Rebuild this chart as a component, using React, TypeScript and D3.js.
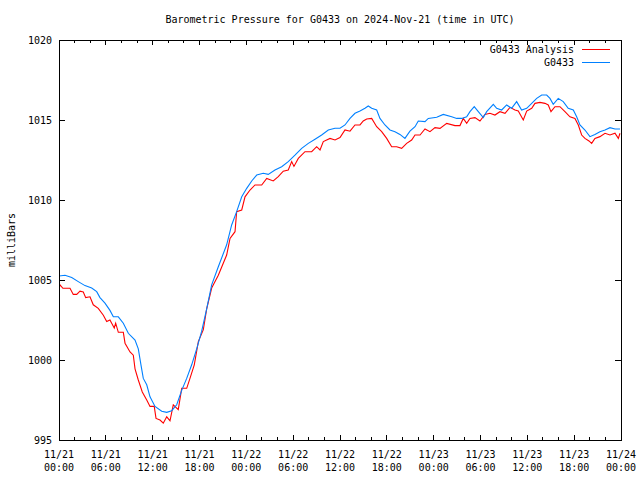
import React from "react";
import * as d3 from "d3";

const title = "Barometric Pressure for G0433 on 2024-Nov-21 (time in UTC)";
const yLabel = "milliBars";
const seriesNames = ["G0433 Analysis", "G0433"];
const seriesColors = ["#ff0000", "#0080ff"];
const yTicks = [995, 1000, 1005, 1010, 1015, 1020];

// hours since 2024-11-21 00:00 UTC
const analysisHours = [0, 0.13, 0.5, 1.41, 1.83, 2.27, 2.69, 3.11, 3.42, 3.97, 4.39, 5.03, 5.68, 6.11, 6.53, 6.75, 7.08, 7.26, 7.6, 8.24, 8.46, 9.1, 9.52, 9.74, 10.16, 10.67, 11.24, 11.66, 12.2, 12.43, 12.94, 13.36, 13.8, 14.22, 14.64, 15.28, 15.72, 16.36, 16.78, 17.33, 17.85, 18.49, 18.92, 19.56, 20.41, 21.48, 21.91, 22.55, 22.76, 23.41, 23.83, 24.47, 25.11, 25.97, 26.61, 27.45, 28.09, 28.73, 29.37, 29.81, 30.1, 30.66, 31.51, 32.37, 33.01, 33.44, 33.86, 34.72, 35.36, 36.0, 36.64, 37.28, 37.92, 38.56, 38.98, 39.42, 40.06, 40.7, 41.34, 41.98, 42.62, 43.26, 43.9, 44.54, 45.18, 45.61, 46.25, 46.89, 47.53, 48.17, 48.81, 49.67, 50.73, 51.37, 51.79, 52.23, 52.65, 53.29, 53.93, 54.57, 55.21, 55.85, 56.49, 57.14, 57.78, 58.42, 58.84, 59.48, 59.92, 60.56, 60.98, 61.62, 62.26, 62.68, 63.03, 63.54, 64.18, 64.82, 65.46, 66.1, 66.53, 66.96, 67.38, 67.9, 68.24, 68.66, 69.3, 69.95, 70.59, 71.23, 71.66, 71.87];
const analysisValues = [1004.48, 1004.7, 1004.48, 1004.48, 1004.1, 1004.1, 1004.3, 1004.25, 1003.9, 1003.95, 1003.45, 1003.23, 1002.8, 1002.4, 1002.5, 1002.3, 1002.0, 1002.3, 1001.73, 1001.73, 1001.05, 1000.5, 1000.3, 999.45, 998.75, 998.0, 997.5, 997.1, 997.1, 996.35, 996.25, 996.05, 996.45, 996.2, 997.2, 996.9, 998.23, 998.23, 998.85, 999.7, 1001.15, 1001.9, 1003.2, 1004.5, 1005.3, 1006.56, 1007.6, 1008.02, 1009.27, 1009.375, 1010.2, 1010.625, 1010.94, 1010.94, 1011.35, 1011.19, 1011.46, 1011.8, 1011.875, 1012.4, 1012.1, 1012.6, 1013.02, 1013.02, 1013.33, 1013.125, 1013.65, 1013.85, 1013.75, 1013.9, 1014.375, 1014.3, 1014.69, 1014.69, 1014.94, 1015.06, 1015.1, 1014.58, 1014.27, 1013.85, 1013.33, 1013.33, 1013.23, 1013.54, 1013.75, 1014.06, 1014.06, 1014.44, 1014.27, 1014.52, 1014.48, 1014.79, 1014.65, 1014.65, 1015.1, 1014.79, 1015.1, 1015.15, 1014.94, 1015.35, 1015.42, 1015.31, 1015.52, 1015.42, 1015.79, 1015.625, 1015.56, 1015.0, 1015.56, 1015.73, 1016.04, 1016.1, 1016.04, 1015.94, 1015.52, 1015.83, 1015.83, 1015.52, 1015.2, 1015.1, 1014.69, 1014.06, 1013.85, 1013.69, 1013.54, 1013.85, 1013.96, 1014.17, 1014.06, 1014.17, 1013.85, 1014.17];

const stationHours = [0, 0.77, 1.63, 2.47, 3.33, 4.19, 4.83, 5.25, 5.89, 6.53, 6.96, 7.6, 8.24, 8.88, 9.74, 10.16, 10.5, 10.8, 11.24, 11.66, 12.3, 13.16, 13.8, 14.44, 15.08, 15.72, 16.36, 17.0, 17.64, 18.28, 18.92, 19.56, 20.41, 21.48, 22.12, 22.76, 23.41, 24.05, 24.69, 25.33, 26.17, 26.81, 27.67, 28.53, 29.37, 30.23, 31.09, 31.94, 32.8, 33.65, 34.5, 35.36, 36.0, 36.64, 37.28, 37.92, 38.56, 39.2, 39.62, 40.06, 40.7, 41.12, 41.76, 42.4, 43.04, 43.68, 44.32, 44.96, 45.61, 46.03, 46.89, 47.31, 48.39, 49.23, 50.31, 50.95, 51.59, 52.23, 52.65, 53.2, 53.72, 54.36, 54.79, 55.64, 56.07, 56.71, 57.35, 57.99, 58.63, 59.27, 59.92, 60.56, 61.2, 61.84, 62.48, 62.9, 63.32, 63.96, 64.6, 65.24, 65.89, 66.32, 66.74, 67.38, 68.02, 68.66, 69.3, 69.95, 70.59, 71.23, 71.87];
const stationValues = [1005.25, 1005.3, 1005.15, 1004.9, 1004.65, 1004.5, 1004.27, 1003.9, 1003.55, 1003.1, 1002.7, 1002.7, 1002.3, 1001.67, 1001.25, 1000.7, 999.7, 998.85, 998.45, 997.7, 997.1, 996.8, 996.73, 996.83, 997.2, 998.1, 998.85, 999.7, 1000.7, 1001.8, 1003.2, 1004.7, 1005.83, 1007.2, 1008.44, 1009.27, 1010.2, 1010.73, 1011.19, 1011.56, 1011.67, 1011.6, 1011.88, 1012.08, 1012.4, 1012.8, 1013.23, 1013.54, 1013.8, 1014.06, 1014.375, 1014.48, 1014.48, 1014.69, 1015.1, 1015.42, 1015.56, 1015.73, 1015.875, 1015.73, 1015.625, 1015.1, 1014.69, 1014.375, 1014.27, 1014.1, 1013.85, 1014.3, 1014.58, 1014.94, 1014.9, 1015.1, 1015.17, 1015.35, 1015.2, 1015.1, 1015.1, 1015.2, 1015.52, 1015.83, 1015.52, 1015.15, 1015.52, 1015.98, 1015.73, 1015.625, 1015.94, 1015.73, 1016.15, 1015.625, 1015.73, 1016.04, 1016.35, 1016.56, 1016.56, 1016.35, 1015.98, 1016.35, 1016.15, 1015.73, 1015.625, 1015.2, 1014.69, 1014.375, 1013.96, 1014.1, 1014.27, 1014.375, 1014.52, 1014.44, 1014.44];

const START = Date.UTC(2024, 10, 21, 0, 0);
const END = Date.UTC(2024, 10, 24, 0, 0);

export default function App() {
  const W = 640, H = 480;
  const L = 59, R = 621, T = 40, B = 440;
  const x = d3.scaleUtc().domain([new Date(START), new Date(END)]).range([L, R]);
  const y = d3.scaleLinear().domain([995, 1020]).range([B, T]);
  const toDate = (h: number) => new Date(START + h * 3600000);
  const line = d3
    .line<[number, number]>()
    .x((d) => x(toDate(d[0])))
    .y((d) => y(d[1]));
  const series = [
    d3.zip(analysisHours, analysisValues) as [number, number][],
    d3.zip(stationHours, stationValues) as [number, number][],
  ];
  const major = x.ticks(d3.utcHour.every(6)!);
  const minor = x.ticks(d3.utcHour.every(2)!).filter((d) => d.getUTCHours() % 6 !== 0);
  const fmtD = d3.utcFormat("%m/%d");
  const fmtT = d3.utcFormat("%H:%M");
  const font = "'DejaVu Sans Mono', 'Liberation Mono', monospace";
  const MJ = 5, MN = 3;
  return (
    <svg width={W} height={H} style={{ position: "absolute", left: 0, top: 0, background: "#fff" }} fontFamily={font} fontSize={10}>
      <rect x={0} y={0} width={W} height={H} fill="#fff" />
      <text x={(L + R) / 2} y={23} textAnchor="middle" fill="#000">{title}</text>
      <g stroke="#000" strokeWidth={1} shapeRendering="crispEdges">
        {major.map((d, i) => (
          <g key={"M" + i}>
            <line x1={x(d)} x2={x(d)} y1={B} y2={B - MJ} />
            <line x1={x(d)} x2={x(d)} y1={T} y2={T + MJ} />
          </g>
        ))}
        {minor.map((d, i) => (
          <g key={"m" + i}>
            <line x1={x(d)} x2={x(d)} y1={B} y2={B - MN} />
            <line x1={x(d)} x2={x(d)} y1={T} y2={T + MN} />
          </g>
        ))}
        {yTicks.map((v) => (
          <g key={"y" + v}>
            <line x1={L} x2={L + 6} y1={y(v)} y2={y(v)} />
            <line x1={R} x2={R - 6} y1={y(v)} y2={y(v)} />
          </g>
        ))}
      </g>
      {yTicks.map((v) => (
        <text key={"yl" + v} x={52} y={y(v) + 4} textAnchor="end" fill="#000">{v}</text>
      ))}
      {major.map((d, i) => (
        <g key={"xl" + i}>
          <text x={x(d)} y={458} textAnchor="middle" fill="#000">{fmtD(d)}</text>
          <text x={x(d)} y={471} textAnchor="middle" fill="#000">{fmtT(d)}</text>
        </g>
      ))}
      <text transform={`translate(15,${(T + B) / 2}) rotate(-90)`} textAnchor="middle" fill="#000">{yLabel}</text>
      <g clipPath="url(#plotclip)">
        {series.map((s, i) => (
          <path key={"s" + i} d={line(s) || ""} fill="none" stroke={seriesColors[i]} strokeWidth={1.1} />
        ))}
      </g>
      <defs>
        <clipPath id="plotclip">
          <rect x={L} y={T} width={R - L} height={B - T} />
        </clipPath>
      </defs>
      {seriesNames.map((n, i) => (
        <g key={"lg" + i}>
          <text x={574} y={53 + i * 13} textAnchor="end" fill="#000">{n}</text>
          <line x1={582} x2={610} y1={49.5 + i * 13} y2={49.5 + i * 13} stroke={seriesColors[i]} strokeWidth={1} shapeRendering="crispEdges" />
        </g>
      ))}
      <rect x={L} y={T} width={R - L} height={B - T} fill="none" stroke="#000" strokeWidth={1} shapeRendering="crispEdges" />
    </svg>
  );
}
